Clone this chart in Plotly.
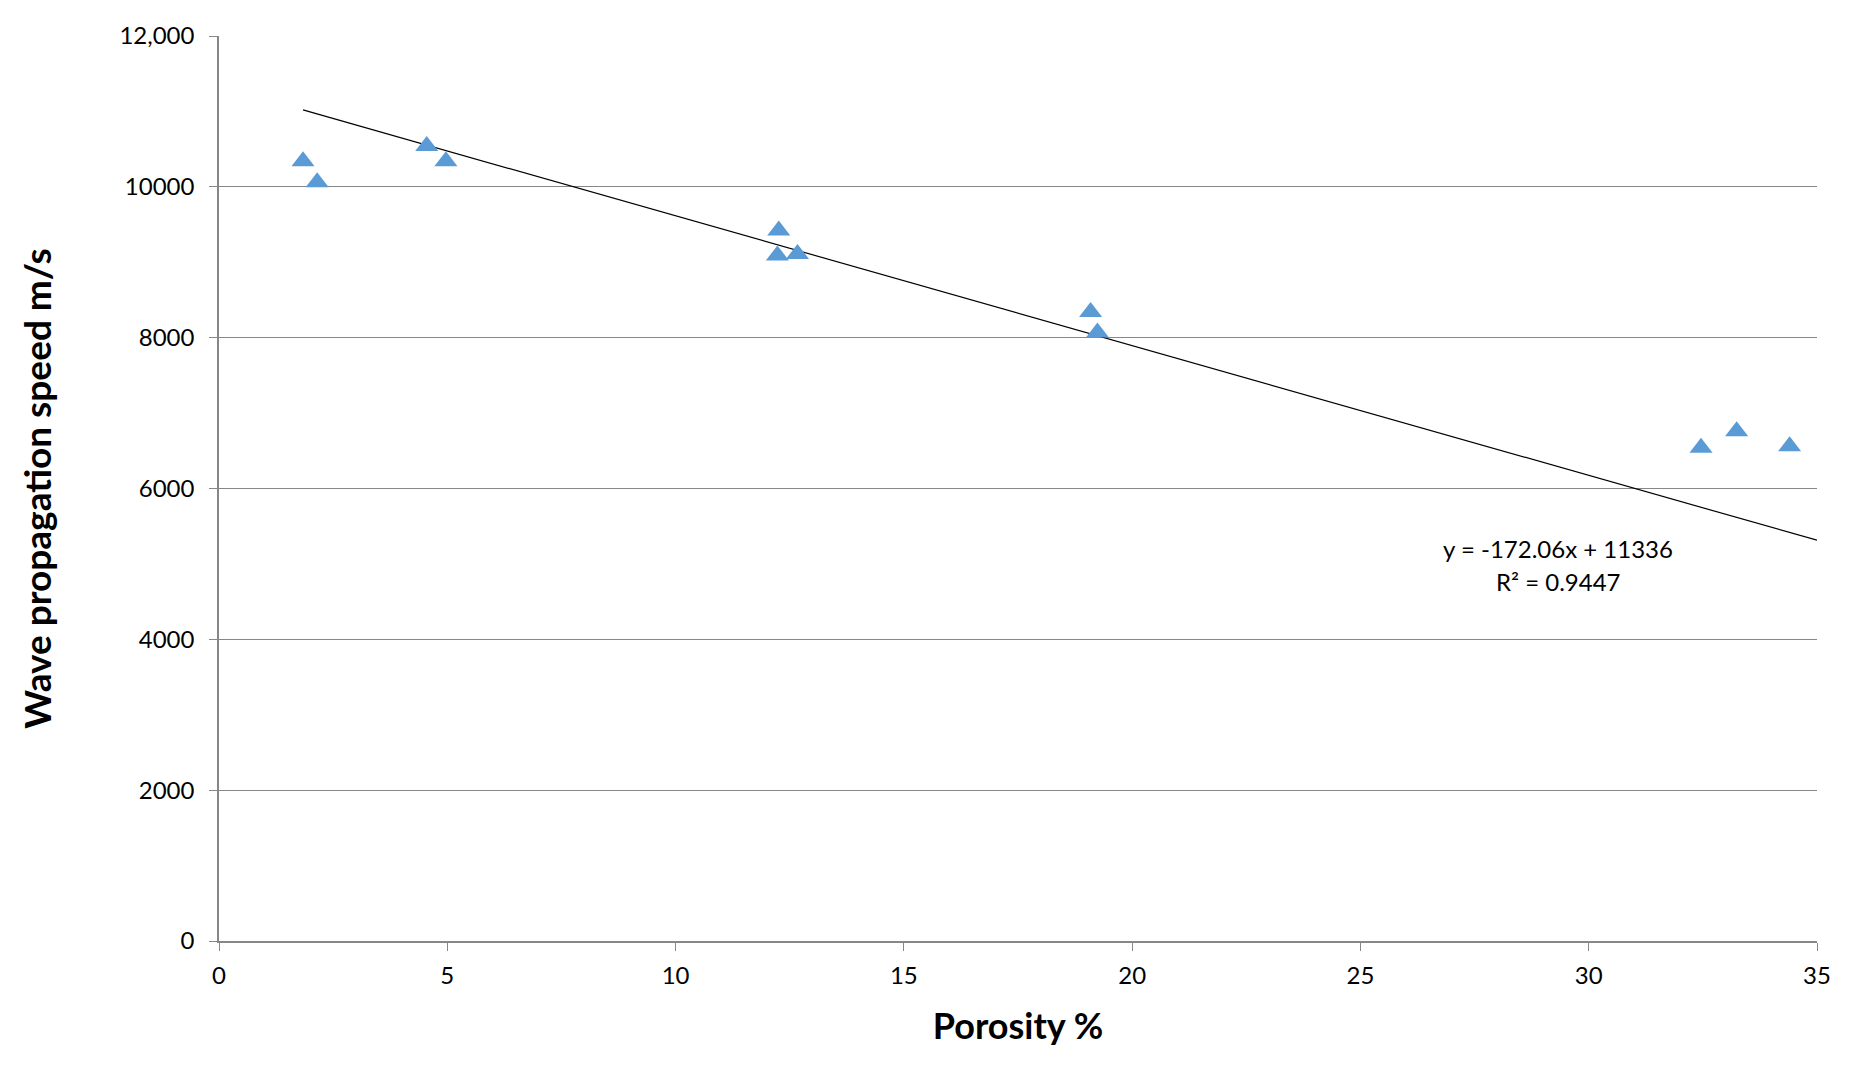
import plotly.graph_objects as go

# Porosity (%) vs wave propagation speed (m/s)
porosity = [1.84, 2.15, 4.55, 4.97, 12.26, 12.23, 12.67, 19.09, 19.24, 32.46, 33.24, 34.40]
speed = [10340, 10060, 10540, 10340, 9420, 9090, 9110, 8340, 8070, 6540, 6760, 6560]

# Linear trendline as printed on the chart
slope = -172.06
intercept = 11336
r_squared = 0.9447
trend_x = [min(porosity), 35]
trend_y = [slope * x + intercept for x in trend_x]

y_ticks = [0, 2000, 4000, 6000, 8000, 10000, 12000]
y_tick_labels = ['0', '2000', '4000', '6000', '8000', '10000', '12,000']
x_ticks = [0, 5, 10, 15, 20, 25, 30, 35]

grid_color = '#878787'
font_family = 'Lato'

fig = go.Figure()

fig.add_trace(go.Scatter(
    x=trend_x, y=trend_y,
    mode='lines',
    line=dict(color='black', width=1.2),
    showlegend=False,
    hoverinfo='skip'
))

fig.add_trace(go.Scatter(
    x=porosity, y=speed,
    mode='markers',
    marker=dict(symbol='triangle-up', size=20, color='#5B9BD5', line=dict(width=0)),
    showlegend=False
))

fig.add_annotation(x=29.33, y=5200, xref='x', yref='y',
                   text=f"y = {slope}x + {intercept}", showarrow=False,
                   font=dict(size=24, color='black', family=font_family))
fig.add_annotation(x=29.33, y=4766, xref='x', yref='y',
                   text=f"R² = {r_squared}", showarrow=False,
                   font=dict(size=24, color='black', family=font_family))

# page body adds an 8px margin, so the figure is 8px smaller each way
fig.update_layout(
    width=1845,
    height=1058,
    paper_bgcolor='white',
    plot_bgcolor='white',
    font=dict(family=font_family, size=24, color='black'),
    margin=dict(l=211, r=36, t=24, b=125),
    xaxis=dict(
        range=[0, 35],
        tickvals=x_ticks,
        showgrid=False,
        zeroline=False,
        showline=True,
        linecolor=grid_color,
        linewidth=1.5,
        ticks='outside',
        ticklen=8,
        tickcolor=grid_color,
        tickfont=dict(size=24),
        ticklabelstandoff=4,
        title=dict(text='<b>Porosity %</b>', font=dict(size=36), standoff=26),
    ),
    yaxis=dict(
        range=[0, 12000],
        tickvals=y_ticks,
        ticktext=y_tick_labels,
        showgrid=True,
        gridcolor=grid_color,
        gridwidth=1.2,
        zeroline=False,
        showline=True,
        linecolor=grid_color,
        linewidth=1.5,
        ticks='outside',
        ticklen=8,
        tickcolor=grid_color,
        tickfont=dict(size=24),
        ticklabelstandoff=10,
        title=dict(text='<b>Wave propagation speed m/s</b>', font=dict(size=37), standoff=56),
    ),
)

fig.write_html("out.html")
